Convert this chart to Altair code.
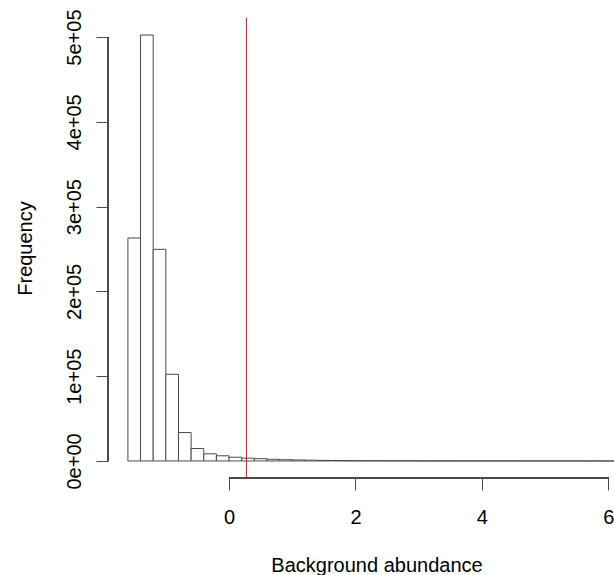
import altair as alt
import pandas as pd

# Histogram bins (width 0.2) and their counts
bin_start = [-1.6, -1.4, -1.2, -1.0, -0.8, -0.6, -0.4, -0.2, 0.0, 0.2,
             0.4, 0.6, 0.8, 1.0, 1.2, 1.4, 1.6, 1.8, 2.0, 2.2,
             2.4, 2.6, 2.8, 3.0, 3.2, 3.4, 3.6, 3.8, 4.0, 4.2,
             4.4, 4.6, 4.8, 5.0, 5.2, 5.4, 5.6, 5.8, 6.0, 6.2]
counts = [263000, 502400, 249600, 102200, 33500, 14700, 8400, 6100, 4400, 3300,
          2700, 2000, 1500, 1200, 900, 700, 550, 450, 350, 300,
          250, 200, 160, 130, 110, 90, 75, 60, 50, 40,
          35, 30, 25, 20, 15, 12, 10, 8, 6, 5]
bin_width = 0.2
threshold = 0.275

y_ticks = [0, 100000, 200000, 300000, 400000, 500000]
x_ticks = [0, 2, 4, 6]

df = pd.DataFrame({
    "start": bin_start,
    "end": [round(s + bin_width, 2) for s in bin_start],
    "count": counts,
})

FONT = "Liberation Sans"
LINE = "#4a4a4a"

xscale = alt.Scale(domain=[-1.915, 6.09], nice=False, zero=False)
yscale = alt.Scale(domain=[-20096, 522496], nice=False, zero=False)

bars = alt.Chart(df).mark_rect(
    fill="white", stroke=LINE, strokeWidth=1, clip=True
).encode(
    x=alt.X("start:Q", scale=xscale, axis=alt.Axis(
        values=x_ticks, format="d", domain=False, grid=False, tickSize=12,
        tickColor=LINE, labelFont=FONT, labelFontSize=20, labelColor="black",
        labelBaseline="alphabetic", labelPadding=33, labelFlush=False,
        labelOverlap=False, labelBound=False,
        title="Background abundance", titleFont=FONT, titleFontSize=20,
        titleFontWeight="normal", titleColor="black", titleX=268.5, titleY=93,
        titleAlign="center", titleBaseline="alphabetic",
    )),
    x2="end:Q",
    y=alt.Y("count:Q", scale=yscale, axis=alt.Axis(
        values=y_ticks, domain=False, grid=False, tickSize=12,
        tickColor=LINE, labelFont=FONT, labelFontSize=20, labelColor="black",
        labelAngle=270, labelAlign="center", labelBaseline="alphabetic",
        labelPadding=16, labelOverlap=False, labelFlush=False,
        labelExpr="datum.value == 0 ? '0e+00' : format(datum.value/100000, 'd') + 'e+05'",
        title="Frequency", titleFont=FONT, titleFontSize=20,
        titleFontWeight="normal", titleColor="black", titleAngle=270,
        titleX=-77, titleY=230, titleAlign="center", titleBaseline="alphabetic",
    )),
    y2=alt.Y2(datum=0),
)

yaxis_line = alt.Chart(df).mark_rule(color=LINE, strokeWidth=1).encode(
    x=alt.value(0),
    y=alt.Y(datum=0, scale=yscale),
    y2=alt.Y2(datum=500000),
)

xaxis_line = alt.Chart(df).mark_rule(color=LINE, strokeWidth=1).encode(
    x=alt.X(datum=0, scale=xscale),
    x2=alt.X2(datum=6),
    y=alt.value(460),
)

red = alt.Chart(pd.DataFrame({"t": [threshold]})).mark_rule(
    color="#FF0000", strokeWidth=1
).encode(
    x=alt.X("t:Q", scale=xscale),
    y=alt.value(0),
    y2=alt.value(460),
)

chart = alt.layer(bars, yaxis_line, xaxis_line, red).properties(
    width=506, height=460,
    autosize=alt.AutoSizeParams(type="none"),
    padding={"left": 108, "top": 18, "right": 0, "bottom": 97},
    background="white",
).configure_view(stroke=None)

chart.save("out.html", embed_options={"renderer": "svg", "actions": False})
